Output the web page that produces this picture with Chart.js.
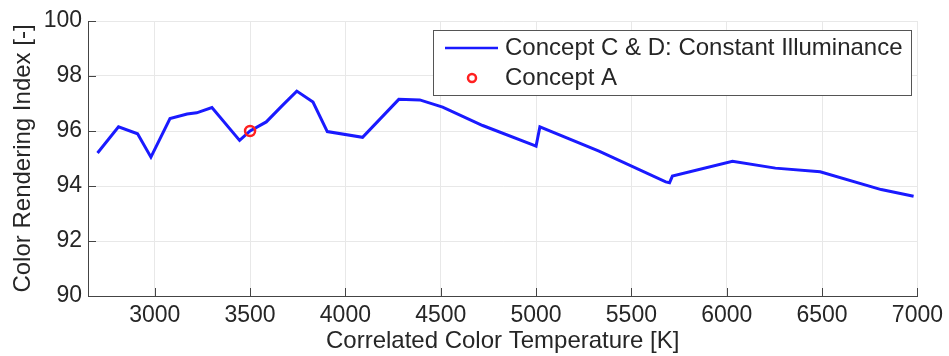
<!DOCTYPE html>
<html>
<head>
<meta charset="utf-8">
<script src="https://cdn.jsdelivr.net/npm/chart.js@4"></script>
<style>
  html, body { margin: 0; padding: 0; background: #fff; }
  #wrap { width: 949px; height: 356px; }
</style>
</head>
<body>
<div id="wrap"><canvas id="myChart" width="949" height="356"></canvas></div>
<script>
// data
var cct = [2700, 2810, 2910, 2980, 3080, 3170, 3220, 3300, 3445, 3500, 3585, 3670, 3745, 3830, 3905, 4090,
           4280, 4390, 4510, 4720, 4990, 5000, 5020, 5330, 5680, 5700, 5715, 6030, 6255, 6490, 6810, 6980];
var cri = [95.2, 96.15, 95.9, 95.05, 96.45, 96.62, 96.66, 96.85, 95.66, 96.0, 96.33, 96.93, 97.45, 97.05, 95.98, 95.77,
           97.15, 97.13, 96.87, 96.2, 95.48, 95.45, 96.15, 95.27, 94.15, 94.12, 94.36, 94.9, 94.65, 94.52, 93.87, 93.63];
var conceptACct = [3500];
var conceptACri = [96.0];
var xTicks = [3000, 3500, 4000, 4500, 5000, 5500, 6000, 6500, 7000];
var yTicks = [90, 92, 94, 96, 98, 100];

var seriesNames = ['Concept C & D: Constant Illuminance', 'Concept A'];
var textColor = '#262626';
var fontFamily = '"Liberation Sans", Arial, Helvetica, sans-serif';

// MATLAB style: ticks pointing inward + legend box inside the plot
var matlabBits = {
  id: 'matlabBits',
  afterDraw: function(chart) {
    var ctx = chart.ctx;
    var xs = chart.scales.x, ys = chart.scales.y;
    var a = chart.chartArea;
    ctx.save();
    ctx.strokeStyle = '#444';
    ctx.lineWidth = 1;
    ctx.beginPath();
    xTicks.forEach(function(v) {
      var px = Math.round(xs.getPixelForValue(v)) + 0.5;
      ctx.moveTo(px, a.bottom);
      ctx.lineTo(px, a.bottom - 8);
    });
    yTicks.forEach(function(v) {
      var py = Math.round(ys.getPixelForValue(v)) + 0.5;
      ctx.moveTo(a.left, py);
      ctx.lineTo(a.left + 8, py);
    });
    ctx.stroke();

    // legend
    var bx = 433.5, by = 30.5, bw = 478, bh = 65;
    ctx.fillStyle = '#fff';
    ctx.fillRect(bx, by, bw, bh);
    ctx.strokeStyle = '#555';
    ctx.strokeRect(bx, by, bw, bh);
    ctx.font = '24px ' + fontFamily;
    ctx.fillStyle = textColor;
    ctx.textBaseline = 'middle';
    ctx.fillText(seriesNames[0], 505, 48);
    ctx.fillText(seriesNames[1], 505, 78);
    ctx.strokeStyle = '#1a1aff';
    ctx.lineWidth = 2.5;
    ctx.beginPath();
    ctx.moveTo(445, 48);
    ctx.lineTo(498, 48);
    ctx.stroke();
    ctx.strokeStyle = '#ff2020';
    ctx.lineWidth = 2.5;
    ctx.beginPath();
    ctx.arc(472, 78, 4, 0, Math.PI * 2);
    ctx.stroke();
    ctx.restore();
  }
};

var ctx = document.getElementById('myChart').getContext('2d');
var chart = new Chart(ctx, {
  type: 'line',
  data: {
    datasets: [{
      label: seriesNames[0],
      data: cct.map(function(x, i) { return {x: x, y: cri[i]}; }),
      borderColor: '#1a1aff',
      borderWidth: 3,
      pointRadius: 0,
      tension: 0,
      order: 2
    }, {
      label: seriesNames[1],
      data: conceptACct.map(function(x, i) { return {x: x, y: conceptACri[i]}; }),
      showLine: false,
      pointStyle: 'circle',
      pointRadius: 5,
      pointBorderWidth: 2.5,
      pointBorderColor: '#ff2020',
      pointBackgroundColor: 'rgba(0,0,0,0)',
      order: 1
    }]
  },
  options: {
    responsive: false,
    animation: false,
    layout: { padding: { top: 21, right: 29, left: 0, bottom: 0 } },
    plugins: { legend: { display: false }, tooltip: { enabled: false } },
    scales: {
      x: {
        type: 'linear',
        min: 2650,
        max: 7000,
        afterBuildTicks: function(s) { s.ticks = xTicks.map(function(v) { return {value: v}; }); },
        afterFit: function(s) { s.height = 60; },
        border: { display: true, color: '#444', width: 1 },
        grid: { color: '#e8e8e8', drawTicks: false },
        ticks: {
          padding: 6, color: textColor, font: { family: fontFamily, size: 23 }, maxRotation: 0,
          callback: function(v) { return String(v); }
        },
        title: {
          display: true,
          text: 'Correlated Color Temperature [K]',
          color: textColor,
          font: { family: fontFamily, size: 24 },
          padding: { top: 0, bottom: 0 }
        }
      },
      y: {
        min: 90,
        max: 100,
        afterBuildTicks: function(s) { s.ticks = yTicks.map(function(v) { return {value: v}; }); },
        afterFit: function(s) { s.width = 88; },
        border: { display: true, color: '#444', width: 1 },
        grid: { color: '#e8e8e8', drawTicks: false },
        ticks: {
          padding: 6, color: textColor, font: { family: fontFamily, size: 23 },
          callback: function(v) { return String(v); }
        },
        title: {
          display: true,
          text: 'Color Rendering Index [-]',
          color: textColor,
          font: { family: fontFamily, size: 24 },
          padding: { top: 9, bottom: 0 }
        }
      }
    }
  },
  plugins: [matlabBits]
});
</script>
</body>
</html>
